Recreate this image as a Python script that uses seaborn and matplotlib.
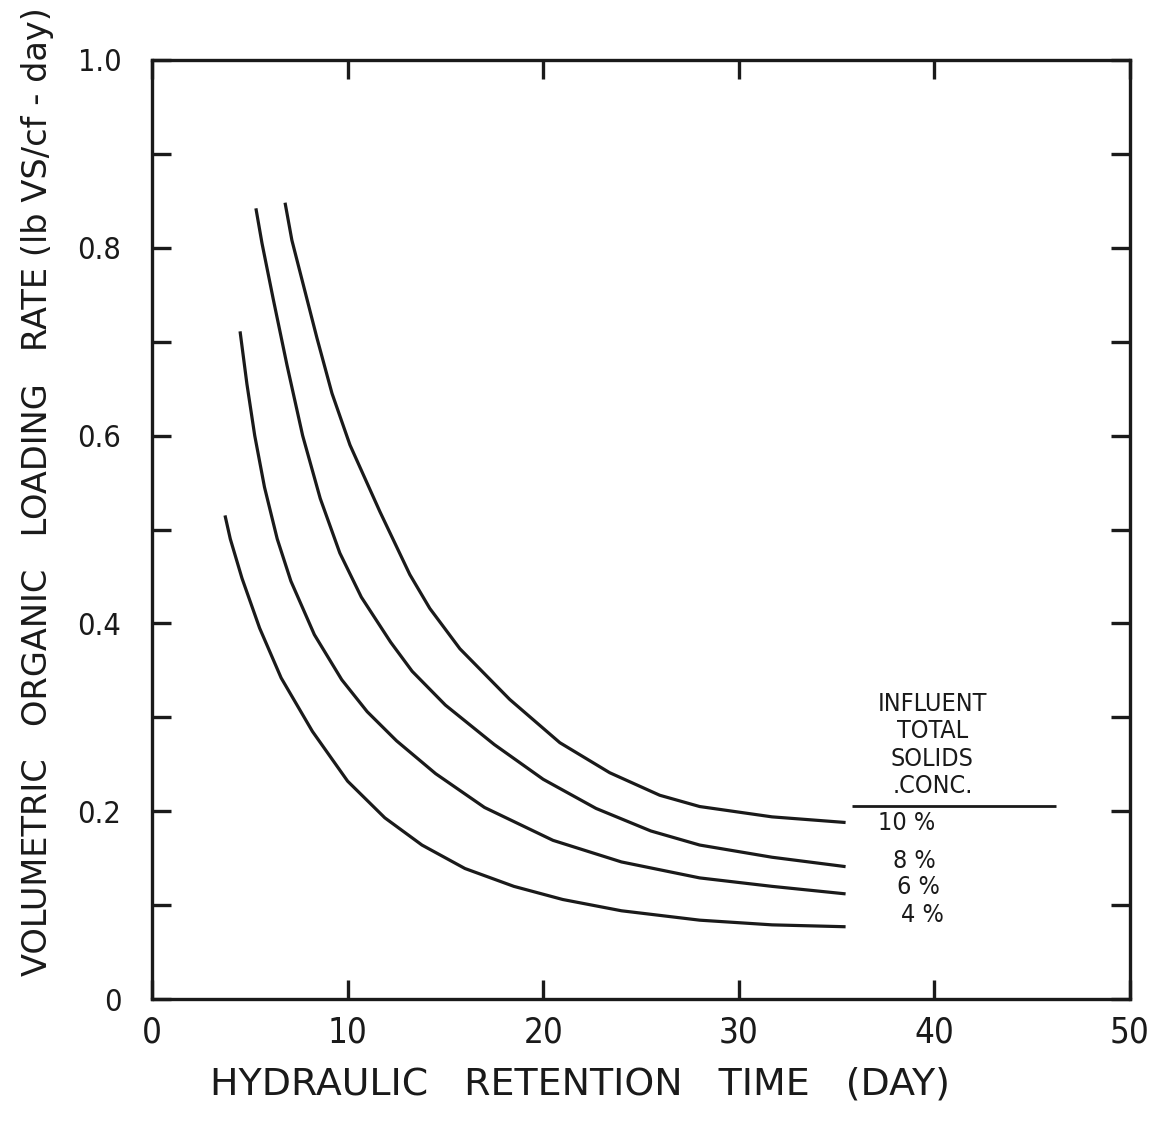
import matplotlib
matplotlib.use("Agg")
import matplotlib.pyplot as plt
import seaborn as sns
import pandas as pd

# ---- data ----
conc_labels = ["10 %", "8 %", "6 %", "4 %"]

hrt_10 = [6.80, 7.15, 8.43, 9.2, 10.12, 11.65, 13.18, 14.2, 15.74, 18.29, 20.85, 23.4, 25.96, 28.0, 31.7, 35.46]
olr_10 = [0.848, 0.808, 0.704, 0.645, 0.590, 0.519, 0.452, 0.416, 0.373, 0.319, 0.273, 0.241, 0.217, 0.205, 0.194, 0.188]

hrt_8 = [5.31, 5.62, 6.2, 6.9, 7.7, 8.6, 9.6, 10.7, 12.2, 13.3, 15.0, 17.5, 20.0, 22.7, 25.5, 28.0, 31.7, 35.46]
olr_8 = [0.842, 0.805, 0.745, 0.675, 0.600, 0.533, 0.475, 0.428, 0.380, 0.349, 0.313, 0.271, 0.234, 0.203, 0.179, 0.164, 0.151, 0.141]

hrt_6 = [4.50, 4.85, 5.25, 5.75, 6.4, 7.1, 8.3, 9.7, 11.0, 12.5, 14.5, 17.0, 20.5, 24.0, 28.0, 31.7, 35.46]
olr_6 = [0.711, 0.655, 0.600, 0.545, 0.490, 0.445, 0.388, 0.340, 0.306, 0.275, 0.240, 0.204, 0.169, 0.146, 0.129, 0.120, 0.112]

hrt_4 = [3.73, 4.0, 4.6, 5.5, 6.6, 8.2, 10.0, 11.9, 13.8, 16.0, 18.5, 21.0, 24.0, 28.0, 31.7, 35.46]
olr_4 = [0.515, 0.490, 0.448, 0.395, 0.342, 0.285, 0.232, 0.193, 0.164, 0.139, 0.120, 0.106, 0.094, 0.084, 0.079, 0.077]

x_ticks = [0, 10, 20, 30, 40, 50]
x_tick_labels = ["0", "10", "20", "30", "40", "50"]
y_ticks = [0, 0.2, 0.4, 0.6, 0.8, 1.0]
y_tick_labels = ["0", "0.2", "0.4", "0.6", "0.8", "1.0"]
y_minor_ticks = [0.1, 0.3, 0.5, 0.7, 0.9]

legend_header = ["INFLUENT", "TOTAL", "SOLIDS", ".CONC."]

x_label = "HYDRAULIC   RETENTION   TIME   (DAY)"
y_label = "VOLUMETRIC   ORGANIC   LOADING   RATE (lb VS/cf - day)"

# ---- build long table ----
frames = []
for lab, xs, ys in zip(conc_labels, [hrt_10, hrt_8, hrt_6, hrt_4], [olr_10, olr_8, olr_6, olr_4]):
    frames.append(pd.DataFrame({"hrt": xs, "olr": ys, "conc": lab}))
df = pd.concat(frames, ignore_index=True)

sns.set_theme(style="white")
plt.rcParams["font.family"] = ["DejaVu Sans"]
ink = "#1a1a1a"

fig = plt.figure(figsize=(11.66, 11.29), dpi=100)
ax = fig.add_axes([0.1304, 0.1151, 0.8387, 0.8318])

sns.lineplot(data=df, x="hrt", y="olr", hue="conc", units="conc", estimator=None,
             sort=False, palette=[ink] * 4, linewidth=2.3, legend=False, ax=ax)
for ln in ax.lines:
    ln.set_solid_joinstyle("round")
    ln.set_solid_capstyle("butt")

ax.set_xlim(0, 50)
ax.set_ylim(0, 1.0)

for sp in ax.spines.values():
    sp.set_visible(True)
    sp.set_linewidth(2.4)
    sp.set_color(ink)

ax.set_xticks(x_ticks)
ax.set_xticklabels(x_tick_labels, fontsize=25, color=ink, fontstretch="condensed")
ax.set_yticks(y_ticks)
ax.set_yticklabels(y_tick_labels, fontsize=22, color=ink, fontstretch="condensed")
ax.set_yticks(y_minor_ticks, minor=True)

ax.tick_params(axis="x", which="major", direction="in", top=True, bottom=True,
               length=14, width=2.4, color=ink, pad=12)
ax.tick_params(axis="y", which="both", direction="in", left=True, right=True,
               length=14, width=2.4, color=ink, pad=22)

ax.set_xlabel(x_label, fontsize=27.3, color=ink)
ax.set_ylabel(y_label, fontsize=24.2, color=ink)
ax.xaxis.set_label_coords(0.438, -0.072)
ax.yaxis.set_label_coords(-0.100, 0.54)

# legend annotation block
header_y = [0.314, 0.285, 0.256, 0.227]
for txt, yy in zip(legend_header, header_y):
    ax.text(39.9, yy, txt, ha="center", va="center", fontsize=18, color=ink,
            fontstretch="condensed")
ax.hlines(0.206, 35.8, 46.2, color=ink, linewidth=2.0)
label_pos = [(38.6, 0.188), (39.0, 0.147), (39.2, 0.119), (39.4, 0.089)]
for lab, (lx, ly) in zip(conc_labels, label_pos):
    ax.text(lx, ly, lab, ha="center", va="center", fontsize=18, color=ink,
            fontstretch="condensed")

fig.savefig("out.png", dpi=100, facecolor="white")
